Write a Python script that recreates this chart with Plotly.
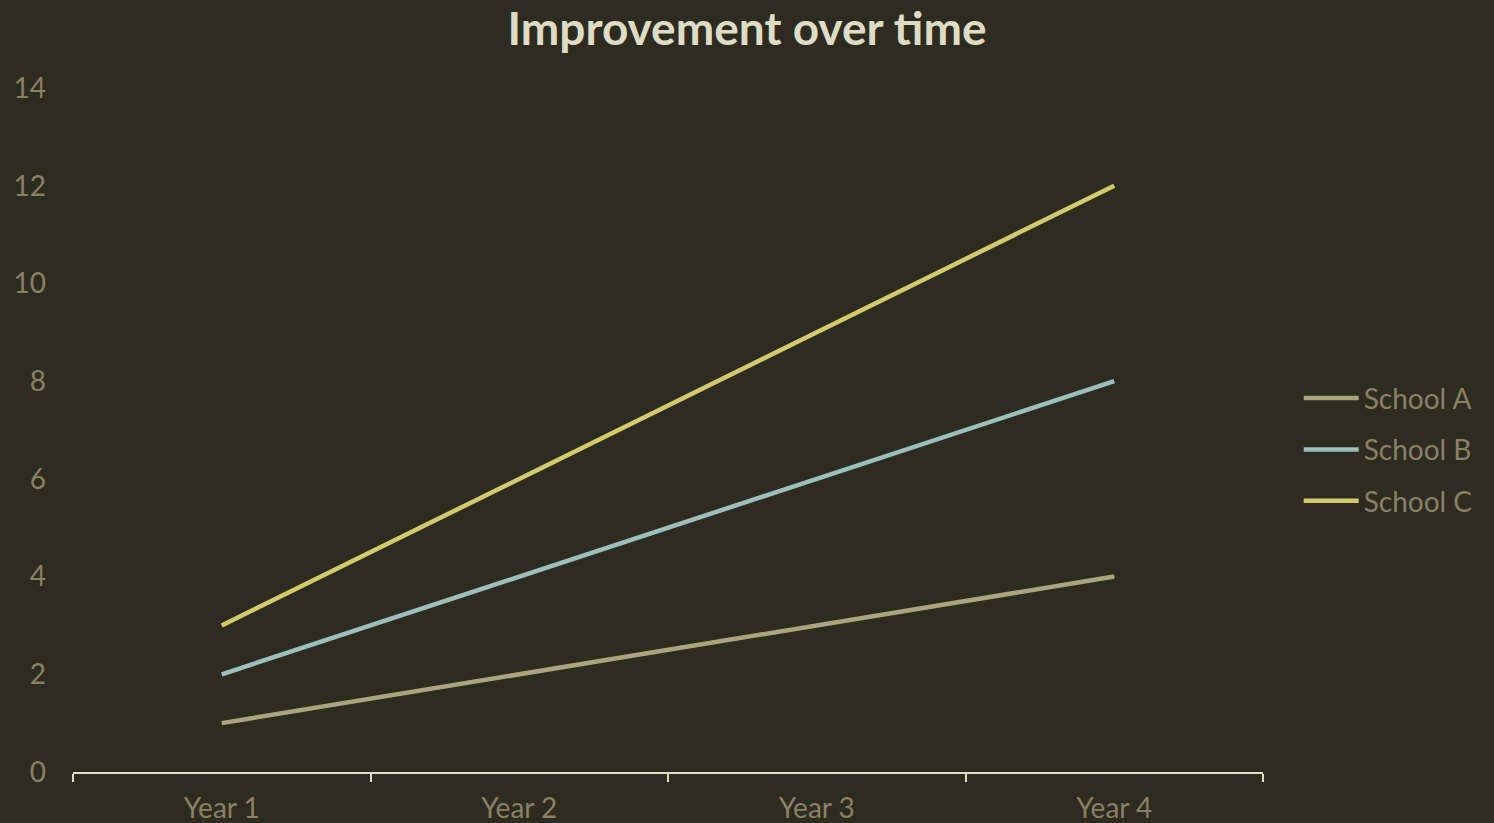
import plotly.graph_objects as go

categories = ["Year 1", "Year 2", "Year 3", "Year 4"]
school_a = [1, 2, 3, 4]
school_b = [2, 4, 6, 8]
school_c = [3, 6, 9, 12]
series_names = ["School A", "School B", "School C"]
colors = ["#A9A57C", "#9CBEBD", "#D2CB6C"]

fig = go.Figure()
for name, vals, col in zip(series_names, [school_a, school_b, school_c], colors):
    fig.add_trace(go.Scatter(x=categories, y=vals, mode="lines", name=name,
                             legendgroup=name,
                             line=dict(color=col, width=4.5)))

fig.update_layout(
    width=1494, height=823,
    paper_bgcolor="#2E2B21", plot_bgcolor="#2E2B21",
    margin=dict(l=73, r=231, t=88, b=51),
    font=dict(family="Lato, sans-serif", color="#8C8064", size=28),
    title=dict(text="<b>Improvement over time</b>", x=0.5, xanchor="center",
               y=0.965, yanchor="middle", automargin=False,
               font=dict(size=46, color="#DEDCC4", family="Lato, sans-serif")),
    showlegend=True,
    legend=dict(x=1.03, xanchor="left", y=0.471, yanchor="middle",
                font=dict(size=28, color="#8C8064"), tracegroupgap=12,
                itemwidth=55, bgcolor="rgba(0,0,0,0)"),
)
fig.update_xaxes(type="category", range=[-0.5, 3.5], showgrid=False,
                 showline=True, linecolor="#DEDCC4", linewidth=2,
                 ticks="outside", tickson="boundaries", ticklen=8,
                 tickcolor="#DEDCC4", tickwidth=2, zeroline=False,
                 ticklabelstandoff=10, automargin=False,
                 tickfont=dict(size=28, color="#8C8064"))
fig.update_yaxes(range=[0, 14], dtick=2, showgrid=False, zeroline=False,
                 showline=False, ticks="", ticklabelstandoff=26,
                 automargin=False,
                 tickfont=dict(size=28, color="#8C8064"))

fig.write_html("out.html")
